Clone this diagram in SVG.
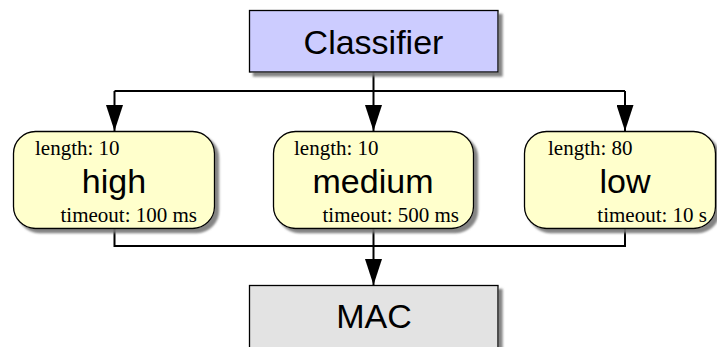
<svg xmlns="http://www.w3.org/2000/svg" width="717" height="347" viewBox="0 0 717 347">
  <defs>
    <filter id="shadow" x="-10%" y="-10%" width="130%" height="140%">
      <feGaussianBlur in="SourceAlpha" stdDeviation="1.2"/>
      <feOffset dx="3.5" dy="3.5" result="off"/>
      <feFlood flood-color="#777777" flood-opacity="0.9"/>
      <feComposite in2="off" operator="in" result="sh"/>
      <feMerge><feMergeNode in="sh"/><feMergeNode in="SourceGraphic"/></feMerge>
    </filter>
    <marker id="arrow" markerWidth="26" markerHeight="17" refX="26" refY="8.5" orient="auto" markerUnits="userSpaceOnUse" viewBox="0 0 26 17">
      <path d="M0,0 L26,8.5 L0,17 Z" fill="#000"/>
    </marker>
  </defs>
  <style>
    .box { stroke: #000; stroke-width: 1.3; filter: url(#shadow); }
    .big { font-family: "Liberation Sans", Arial, sans-serif; font-size: 34px; fill: #000; text-anchor: middle; }
    .small { font-family: "Liberation Serif", "Times New Roman", serif; font-size: 21px; fill: #000; }
    .wire { fill: none; stroke: #000; stroke-width: 2; }
  </style>

  <g id="connectors">
    <path class="wire" d="M373.5,72 V91"/>
    <path class="wire" d="M114.5,91 H625"/>
    <path class="wire" d="M114.5,91 V131" marker-end="url(#arrow)"/>
    <path class="wire" d="M373.5,91 V131" marker-end="url(#arrow)"/>
    <path class="wire" d="M625,91 V131" marker-end="url(#arrow)"/>
    <path class="wire" d="M114.5,228 V246 H625 V228"/>
    <path class="wire" d="M373.5,228 V285" marker-end="url(#arrow)"/>
  </g>

  <g id="classifier">
    <rect class="box" x="249.5" y="10.5" width="248.5" height="61.5" fill="#ccccff"/>
    <text class="big" x="373.5" y="54">Classifier</text>
  </g>

  <g id="high">
    <rect class="box" x="13.5" y="131.5" width="201" height="97" rx="22" ry="22" fill="#ffffcc"/>
    <text class="small" x="35" y="155">length: 10</text>
    <text class="big" x="114" y="193">high</text>
    <text class="small" x="197" y="222" text-anchor="end">timeout: 100 ms</text>
  </g>

  <g id="medium">
    <rect class="box" x="273.5" y="131.5" width="200" height="97" rx="22" ry="22" fill="#ffffcc"/>
    <text class="small" x="294" y="155">length: 10</text>
    <text class="big" x="373" y="193">medium</text>
    <text class="small" x="459" y="222" text-anchor="end">timeout: 500 ms</text>
  </g>

  <g id="low">
    <rect class="box" x="524.5" y="131.5" width="191" height="97" rx="22" ry="22" fill="#ffffcc"/>
    <text class="small" x="548" y="155">length: 80</text>
    <text class="big" x="625" y="193">low</text>
    <text class="small" x="707" y="222" text-anchor="end">timeout: 10 s</text>
  </g>

  <g id="mac">
    <rect class="box" x="249.5" y="285.5" width="248.5" height="80" fill="#e3e3e3"/>
    <text class="big" x="374" y="328">MAC</text>
  </g>
</svg>
